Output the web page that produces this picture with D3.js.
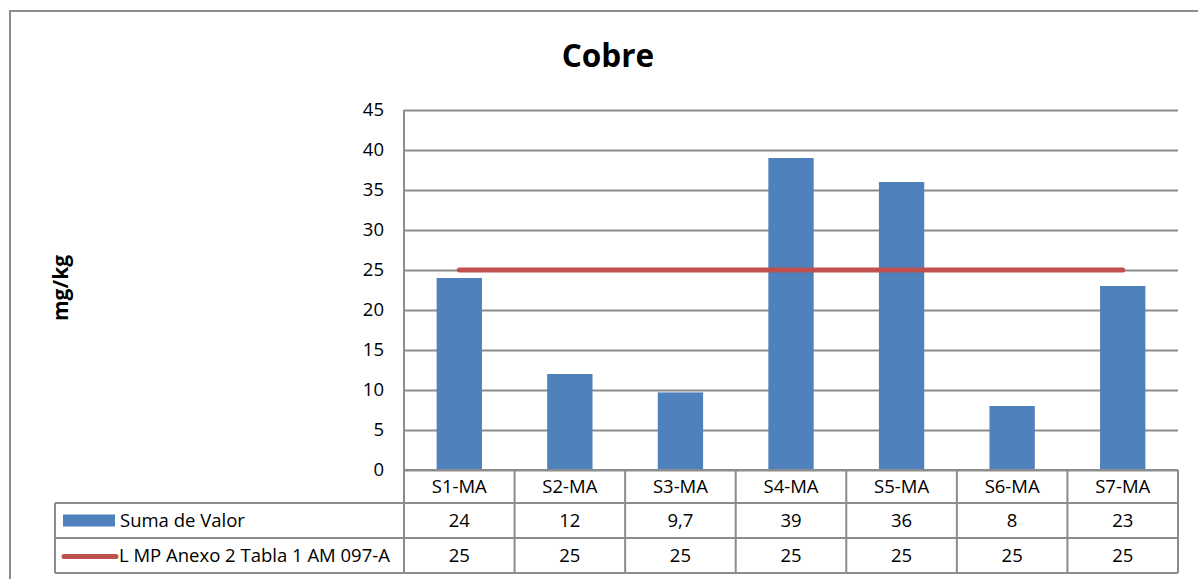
<!DOCTYPE html>
<html>
<head>
<meta charset="UTF-8">
<title>Cobre</title>
<script src="https://d3js.org/d3.v7.min.js"></script>
<style>
  body { margin: 0; background: #fff; }
  svg { display: block; font-family: "Open Sans", "Noto Sans", sans-serif; }
  .grid line { stroke: #8c8c8c; stroke-width: 2; }
  .grid path { display: none; }
  .tbl line { stroke: #8c8c8c; stroke-width: 2; }
</style>
</head>
<body>
<svg width="1198" height="579"></svg>
<script>
  // datos
  var categories = ["S1-MA", "S2-MA", "S3-MA", "S4-MA", "S5-MA", "S6-MA", "S7-MA"]
  var sumaValor = [24, 12, 9.7, 39, 36, 8, 23]
  var limite = [25, 25, 25, 25, 25, 25, 25]
  var seriesNames = ["Suma de Valor", "L MP Anexo 2 Tabla 1 AM 097-A"]
  var yTicks = [0, 5, 10, 15, 20, 25, 30, 35, 40, 45]

  var blue = "#4f81bd", red = "#c0504d"
  var fs = "18.5px"

  var svg = d3.select("svg")

  // marco exterior
  svg.append("rect")
    .attr("x", 10).attr("y", 11)
    .attr("width", 1200).attr("height", 600)
    .attr("fill", "none").attr("stroke", "#8c8c8c").attr("stroke-width", 2)

  var plotL = 404, plotR = 1178, plotT = 110, plotB = 470
  var tableLeft = 55
  var rowH = [470, 503, 538, 573]

  var x = d3.scaleBand().domain(categories).range([plotL, plotR])
  var y = d3.scaleLinear().domain([0, 45]).range([plotB, plotT])

  // titulo
  svg.append("text")
    .attr("x", 608).attr("y", 67)
    .attr("text-anchor", "middle")
    .style("font-weight", "bold").style("font-size", "31.5px")
    .text("Cobre")

  svg.append("text")
    .attr("transform", "translate(68, 288) rotate(-90)")
    .attr("text-anchor", "middle")
    .style("font-weight", "bold").style("font-size", "21px")
    .text("mg/kg")

  // grid horizontal
  svg.append("g")
    .attr("class", "grid")
    .attr("transform", "translate(" + plotL + ",0)")
    .call(d3.axisLeft(y).tickValues(yTicks).tickSize(-(plotR - plotL)).tickFormat(""))

  // etiquetas eje y
  svg.append("g").selectAll("text")
    .data(yTicks)
    .enter().append("text")
    .attr("x", 384)
    .attr("y", function(d) { return y(d) })
    .attr("dy", "0.35em")
    .attr("text-anchor", "end")
    .style("font-size", fs)
    .text(function(d) { return d })

  // eje vertical
  svg.append("line")
    .attr("x1", plotL).attr("x2", plotL).attr("y1", plotT).attr("y2", plotB)
    .attr("stroke", "#8c8c8c").attr("stroke-width", 2)

  // barras
  var barW = x.bandwidth() * 0.41
  svg.append("g").selectAll("rect")
    .data(sumaValor)
    .enter().append("rect")
    .attr("x", function(d, i) { return x(categories[i]) + x.bandwidth() / 2 - barW / 2 })
    .attr("y", function(d) { return y(d) })
    .attr("width", barW)
    .attr("height", function(d) { return plotB - y(d) })
    .attr("fill", blue)

  // linea limite
  var line = d3.line()
    .x(function(d, i) { return x(categories[i]) + x.bandwidth() / 2 })
    .y(function(d) { return y(d) })
  svg.append("path")
    .datum(limite)
    .attr("d", line)
    .attr("fill", "none")
    .attr("stroke", red)
    .attr("stroke-width", 5)
    .attr("stroke-linecap", "round")

  // tabla de datos
  var tbl = svg.append("g").attr("class", "tbl")
  tbl.append("line").attr("x1", plotL).attr("x2", plotR).attr("y1", rowH[0]).attr("y2", rowH[0])
  for (var r = 1; r < rowH.length; r++) {
    tbl.append("line").attr("x1", tableLeft).attr("x2", plotR).attr("y1", rowH[r]).attr("y2", rowH[r])
  }
  tbl.append("line").attr("x1", tableLeft).attr("x2", tableLeft).attr("y1", rowH[1]).attr("y2", rowH[3])
  tbl.selectAll(".vl")
    .data(categories.concat(["end"]))
    .enter().append("line")
    .attr("x1", function(d) { return d === "end" ? plotR : x(d) })
    .attr("x2", function(d) { return d === "end" ? plotR : x(d) })
    .attr("y1", rowH[0]).attr("y2", rowH[3])

  function rowText(vals, r) {
    svg.append("g").selectAll("text")
      .data(vals)
      .enter().append("text")
      .attr("x", function(d, i) { return x(categories[i]) + x.bandwidth() / 2 })
      .attr("y", (rowH[r] + rowH[r + 1]) / 2)
      .attr("dy", "0.35em")
      .attr("text-anchor", "middle")
      .style("font-size", fs)
      .text(function(d) { return String(d).replace(".", ",") })
  }
  rowText(categories, 0)
  rowText(sumaValor, 1)
  rowText(limite, 2)

  // leyenda en la tabla
  var r1 = (rowH[1] + rowH[2]) / 2, r2 = (rowH[2] + rowH[3]) / 2
  svg.append("rect")
    .attr("x", 63).attr("y", r1 - 6).attr("width", 52).attr("height", 12)
    .attr("fill", blue)
  svg.append("line")
    .attr("x1", 64).attr("x2", 116).attr("y1", r2 + 1).attr("y2", r2 + 1)
    .attr("stroke", red).attr("stroke-width", 5).attr("stroke-linecap", "round")
  svg.append("text")
    .attr("x", 120).attr("y", r1).attr("dy", "0.35em")
    .style("font-size", fs)
    .text(seriesNames[0])
  svg.append("text")
    .attr("x", 119).attr("y", r2).attr("dy", "0.35em")
    .style("font-size", fs)
    .text(seriesNames[1])
</script>
</body>
</html>
